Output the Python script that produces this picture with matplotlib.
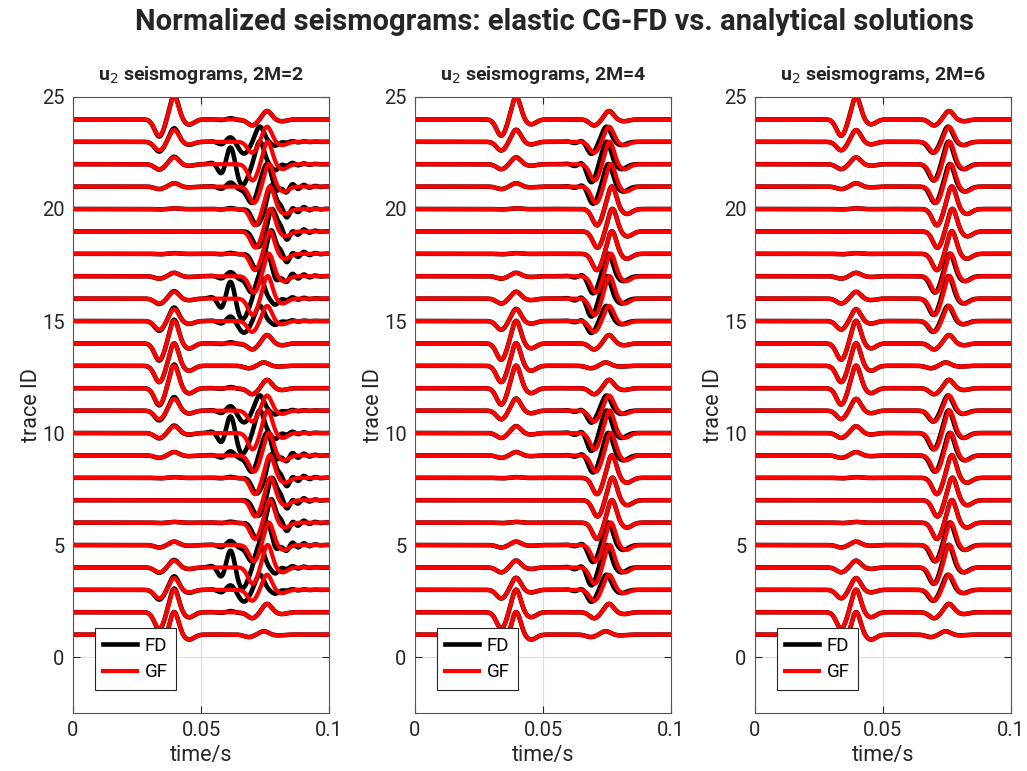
import numpy as np
import matplotlib.pyplot as plt

plt.rcParams['font.family'] = ['Roboto', 'DejaVu Sans']

# trace IDs and the symmetry class of each trace (receiver position)
trace_id = np.arange(1, 25)
trace_class = [0, 1, 2, 3, 4, 5, 6, 5, 4, 3, 2, 1, 0, 1, 2, 3, 4, 5, 6, 5, 4, 3, 2, 1]

# analytical (GF) P- and S-wave peak amplitudes / arrival times per class
p_amp = [1.0, 1.0, 0.52, 0.3, 0.15, 0.03, 0.0]
s_amp = [0.15, 0.37, 0.67, 1.0, 1.0, 1.0, 1.0]
s_time = [0.0745, 0.0758, 0.0758, 0.076, 0.0765, 0.0769, 0.0771]
p_time = 0.0395

# FD deviations per panel (2M=2, 4, 6) and per class
orders = [2, 4, 6]
fd_p_gain = [[1.0, 1.05, 1.15, 1.1, 1.0, 1.0, 1.0],
             [1.0, 1.0, 1.03, 1.02, 1.0, 1.0, 1.0],
             [1.0, 1.0, 1.0, 1.0, 1.0, 1.0, 1.0]]
fd_s_shift = [[0.0, 0.0, -0.0028, -0.003, -0.001, 0.0008, 0.001],
              [0.0, 0.0, -0.001, -0.0012, -0.001, 0.0, 0.0],
              [0.0, 0.0, -0.0004, -0.0004, -0.0004, 0.0, 0.0]]
fd_pre_amp = [[0.0, 0.05, 0.2, 0.75, 0.18, 0.04, 0.0],
              [0.0, 0.0, 0.08, 0.12, 0.08, 0.0, 0.0],
              [0.0, 0.0, 0.0, 0.0, 0.0, 0.0, 0.0]]
fd_tail_amp = [[0.0, 0.0, 0.03, 0.06, 0.13, 0.15, 0.15],
               [0.0, 0.0, 0.0, 0.0, 0.0, 0.0, 0.0],
               [0.0, 0.0, 0.0, 0.0, 0.0, 0.0, 0.0]]
pre_time = [0.0615, 0.0655, 0.068]
pre_period = [0.0085, 0.007, 0.006]


def wavelet(tau):
    w = (np.exp(-(tau / 0.0024) ** 2)
         - 0.72 * np.exp(-((tau + 0.0058) / 0.0026) ** 2)
         - 0.22 * np.exp(-((tau - 0.0058) / 0.0028) ** 2))
    return w / 0.985


def gabor(t, tc, period, width):
    return np.exp(-((t - tc) / width) ** 2) * np.cos(2 * np.pi * (t - tc) / period)


t = np.linspace(0, 0.1, 2001)

fig = plt.figure(figsize=(10.27, 7.71), dpi=100)
fig.suptitle('Normalized seismograms: elastic CG-FD vs. analytical solutions',
             fontsize=21, fontweight='bold', color='#262626', x=0.54, y=0.971,
             va='center')

lefts = [0.0711, 0.4041, 0.7351]
for k, order in enumerate(orders):
    ax = fig.add_axes([lefts[k], 0.0752, 0.2493, 0.799])
    gf = []
    fd = []
    for i, c in enumerate(trace_class):
        g = p_amp[c] * wavelet(t - p_time) + s_amp[c] * wavelet(t - s_time[c])
        f = (fd_p_gain[k][c] * p_amp[c] * wavelet(t - p_time)
             + s_amp[c] * wavelet(t - s_time[c] - fd_s_shift[k][c])
             + fd_pre_amp[k][c] * gabor(t, pre_time[k], pre_period[k], 0.005)
             - fd_tail_amp[k][c] * gabor(t, 0.0835, 0.0045, 0.009))
        gf.append(g + trace_id[i])
        fd.append(f + trace_id[i])
    fd_lines = ax.plot(t, np.array(fd).T, color='black', lw=3.3)
    gf_lines = ax.plot(t, np.array(gf).T, color='red', lw=3.0)

    ax.set_xlim(0, 0.1)
    ax.set_ylim(-2.5, 25)
    ax.set_xticks([0, 0.05, 0.1])
    ax.set_xticklabels(['0', '0.05', '0.1'])
    ax.set_yticks([0, 5, 10, 15, 20, 25])
    ax.grid(True, color='#dcdcdc', lw=0.8)
    ax.set_axisbelow(True)
    ax.tick_params(direction='in', top=True, right=True, labelsize=14.5,
                   colors='#262626', length=5, width=0.8, pad=6)
    for sp in ax.spines.values():
        sp.set_color('#555555')
        sp.set_linewidth(0.8)
    ax.set_xlabel('time/s', fontsize=15.5, color='#262626', labelpad=3)
    ax.set_ylabel('trace ID', fontsize=15.5, color='#262626', labelpad=0)
    ax.set_title('u$_2$ seismograms, 2M=%d' % order, fontsize=14,
                 fontweight='bold', color='#262626', pad=12)
    leg = ax.legend([fd_lines[0], gf_lines[0]], ['FD', 'GF'], loc='lower left',
                    bbox_to_anchor=(0.085, 0.038), borderaxespad=0,
                    fontsize=13.5, fancybox=False, framealpha=1,
                    edgecolor='#262626', handlelength=1.8, borderpad=0.45,
                    labelspacing=0.45, handletextpad=0.4)
    leg.get_frame().set_linewidth(0.8)

fig.savefig('out.png', dpi=100)
